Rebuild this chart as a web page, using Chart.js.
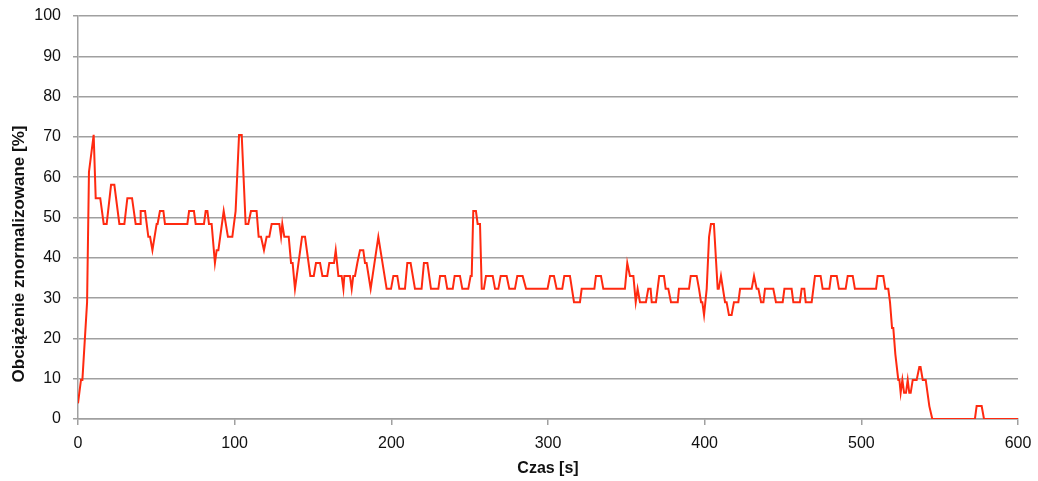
<!DOCTYPE html>
<html>
<head>
<meta charset="utf-8">
<script src="https://cdn.jsdelivr.net/npm/chart.js@4.4.1/dist/chart.umd.min.js"></script>
<style>
  html, body { margin: 0; padding: 0; background: #ffffff; }
  #wrap { width: 1038px; height: 481px; position: relative; }
</style>
</head>
<body>
<div id="wrap"><canvas id="c" width="1038" height="481"></canvas></div>
<script>
// ---- data ----
const timeS = [
  0, 1.9, 2.8, 5.8, 7.0, 10.0, 11.3, 14.2, 16.4, 18.3, 21.1, 23.2, 26.4, 29.6, 31.5, 34.5,
  36.8, 39.6, 40.0, 42.8, 44.9, 46.0, 47.5, 50.2, 50.8, 52.3, 54.5, 55.5, 69.8, 70.9, 74.0, 75.1,
  80.4, 81.5, 82.6, 83.6, 85.3, 87.4, 88.5, 89.6, 93.0, 95.7, 98.5, 100.6, 102.8, 104.5, 107.0, 108.7,
  110.4, 114.0, 115.3, 116.8, 118.7, 120.4, 122.1, 123.6, 128.5, 129.6, 130.4, 131.7, 134.5, 136.0, 137.0, 138.5,
  143.0, 144.9, 148.3, 150.5, 151.9, 154.5, 156.0, 159.1, 160.4, 163.4, 164.5, 166.2, 168.3, 169.4, 170.0, 173.6,
  174.7, 175.7, 176.8, 178.3, 180.0, 182.1, 183.2, 184.2, 186.8, 191.7, 197.0, 199.8, 201.3, 203.8, 205.1, 208.7,
  210.2, 212.3, 215.1, 219.3, 220.8, 223.0, 225.3, 230.0, 231.1, 234.3, 235.7, 239.2, 240.4, 243.8, 245.3, 249.1,
  250.6, 251.3, 252.3, 254.0, 255.1, 256.6, 257.7, 259.1, 260.4, 264.7, 266.2, 268.3, 269.8, 273.6, 275.3, 278.9,
  280.4, 283.8, 286.0, 299.7, 301.3, 303.8, 305.5, 309.1, 310.4, 314.0, 316.6, 320.4, 321.5, 329.6, 330.6, 333.8,
  335.3, 349.1, 350.6, 352.3, 354.5, 356.0, 357.2, 358.7, 362.5, 364.0, 365.5, 366.2, 368.9, 371.0, 374.0, 375.1,
  376.8, 378.5, 382.8, 383.6, 390.0, 391.1, 394.9, 396.4, 397.7, 398.5, 399.6, 401.3, 402.8, 404.0, 405.9, 408.3,
  409.0, 410.4, 413.0, 414.0, 415.5, 417.2, 418.7, 421.5, 422.6, 430.0, 431.5, 433.2, 434.3, 436.0, 437.5, 438.5,
  443.8, 445.5, 449.8, 450.9, 455.5, 456.6, 460.8, 461.9, 463.6, 464.5, 468.3, 470.4, 474.0, 475.3, 479.6, 480.7,
  484.3, 485.7, 490.0, 491.3, 494.5, 495.9, 509.4, 510.4, 514.0, 515.3, 517.2, 518.3, 519.6, 520.4, 521.7, 523.6,
  524.3, 525.1, 526.2, 527.3, 528.5, 529.6, 530.6, 531.5, 532.8, 535.3, 537.0, 537.8, 539.2, 541.1, 543.4, 543.8,
  545.3, 572.5, 573.6, 576.8, 578.3, 600
];
const loadPct = [
  3.9, 9.7, 9.7, 29.0, 61.3, 70.5, 54.8, 54.8, 48.4, 48.4, 58.1, 58.1, 48.4, 48.4, 54.8, 54.8,
  48.4, 48.4, 51.6, 51.6, 45.2, 45.2, 41.9, 48.4, 48.4, 51.6, 51.6, 48.4, 48.4, 51.6, 51.6, 48.4,
  48.4, 51.6, 51.6, 48.4, 48.4, 38.7, 41.9, 41.9, 51.6, 45.2, 45.2, 51.6, 70.5, 70.5, 48.4, 48.4,
  51.6, 51.6, 45.2, 45.2, 41.9, 45.2, 45.2, 48.4, 48.4, 45.2, 48.4, 45.2, 45.2, 38.7, 38.7, 32.3,
  45.2, 45.2, 35.5, 35.5, 38.7, 38.7, 35.5, 35.5, 38.7, 38.7, 41.9, 35.5, 35.5, 32.3, 35.5, 35.5,
  32.3, 35.5, 35.5, 38.7, 41.9, 41.9, 38.7, 38.7, 32.3, 45.2, 32.3, 32.3, 35.5, 35.5, 32.3, 32.3,
  38.7, 38.7, 32.3, 32.3, 38.7, 38.7, 32.3, 32.3, 35.5, 35.5, 32.3, 32.3, 35.5, 35.5, 32.3, 32.3,
  35.5, 35.5, 51.6, 51.6, 48.4, 48.4, 32.3, 32.3, 35.5, 35.5, 32.3, 32.3, 35.5, 35.5, 32.3, 32.3,
  35.5, 35.5, 32.3, 32.3, 35.5, 35.5, 32.3, 32.3, 35.5, 35.5, 29.0, 29.0, 32.3, 32.3, 35.5, 35.5,
  32.3, 32.3, 38.7, 35.5, 35.5, 29.0, 32.3, 29.0, 29.0, 32.3, 32.3, 29.0, 29.0, 35.5, 35.5, 32.3,
  32.3, 29.0, 29.0, 32.3, 32.3, 35.5, 35.5, 32.3, 29.0, 29.0, 25.8, 32.3, 45.2, 48.4, 48.4, 32.3,
  32.3, 35.5, 29.0, 29.0, 25.8, 25.8, 29.0, 29.0, 32.3, 32.3, 35.5, 32.3, 32.3, 29.0, 29.0, 32.3,
  32.3, 29.0, 29.0, 32.3, 32.3, 29.0, 29.0, 32.3, 32.3, 29.0, 29.0, 35.5, 35.5, 32.3, 32.3, 35.5,
  35.5, 32.3, 32.3, 35.5, 35.5, 32.3, 32.3, 35.5, 35.5, 32.3, 32.3, 29.0, 22.6, 22.6, 16.1, 9.7,
  9.7, 6.5, 9.7, 6.5, 6.5, 9.7, 6.5, 6.5, 9.7, 9.7, 12.9, 12.9, 9.7, 9.7, 3.2, 3.2,
  0, 0, 3.2, 3.2, 0, 0
];
const xTicks = [0, 100, 200, 300, 400, 500, 600];
const yTicks = [0, 10, 20, 30, 40, 50, 60, 70, 80, 90, 100];
const xTitle = 'Czas [s]';
const yTitle = 'Obciążenie znormalizowane [%]';

const points = timeS.map((t, i) => ({ x: t, y: loadPct[i] }));

const FONT = "'Liberation Sans', Arial, sans-serif";
const GRID = '#a0a0a0';
const TEXT = '#111111';

const yTitlePlugin = {
  id: 'yTitlePlugin',
  afterDraw(chart) {
    const ctx = chart.ctx;
    ctx.save();
    ctx.font = "bold 17px " + FONT;
    ctx.fillStyle = TEXT;
    ctx.textAlign = 'center';
    ctx.textBaseline = 'middle';
    ctx.translate(19, 254);
    ctx.rotate(-Math.PI / 2);
    ctx.fillText(yTitle, 0, 0);
    ctx.restore();
  }
};

new Chart(document.getElementById('c'), {
  type: 'line',
  data: {
    datasets: [{
      data: points,
      borderColor: '#ff2a10',
      borderWidth: 2,
      pointRadius: 0,
      tension: 0,
      fill: false
    }]
  },
  options: {
    responsive: false,
    animation: false,
    events: [],
    layout: { padding: { left: 0, right: 20, top: 16, bottom: 0 } },
    plugins: { legend: { display: false }, tooltip: { enabled: false } },
    scales: {
      x: {
        type: 'linear',
        min: 0, max: 600,
        afterBuildTicks(scale) { scale.ticks = xTicks.map(v => ({ value: v })); },
        afterFit(scale) { scale.height = 62; scale.paddingLeft = 0; scale.paddingRight = 0; },
        grid: { display: true, drawOnChartArea: false, drawTicks: true, tickLength: 6, color: GRID, lineWidth: 1.5 },
        border: { display: true, color: GRID, width: 1.5 },
        ticks: { padding: 9, color: TEXT, font: { family: FONT, size: 16 }, maxRotation: 0, autoSkip: false },
        title: { display: true, text: xTitle, color: TEXT, font: { family: FONT, size: 16, weight: 'bold' }, padding: { top: 0, bottom: 3 } }
      },
      y: {
        min: 0, max: 100,
        afterBuildTicks(scale) { scale.ticks = yTicks.map(v => ({ value: v })); },
        afterFit(scale) { scale.width = 78; scale.paddingTop = 0; scale.paddingBottom = 0; },
        grid: { display: true, drawTicks: true, tickLength: 5, color: GRID, lineWidth: 1.5 },
        border: { display: true, color: GRID, width: 1.5 },
        ticks: { padding: 12, color: TEXT, font: { family: FONT, size: 16 }, autoSkip: false }
      }
    }
  },
  plugins: [yTitlePlugin]
});
</script>
</body>
</html>
